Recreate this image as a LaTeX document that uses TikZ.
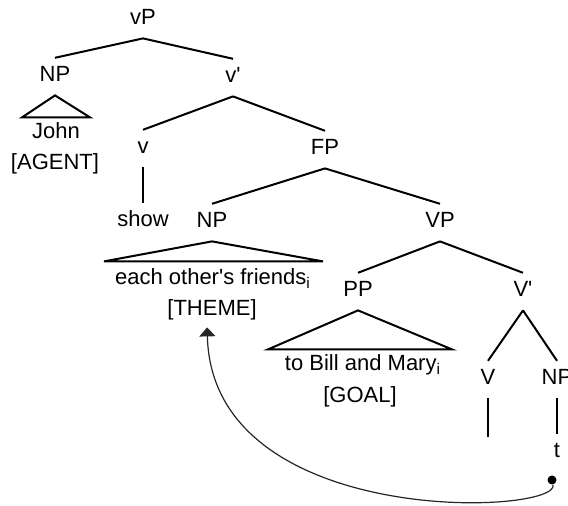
\documentclass[tikz,border=0pt]{standalone}
\usepackage{fontspec}
\setmainfont{Liberation Sans}
\usepackage{tikz}
\usetikzlibrary{arrows.meta}

\begin{document}
\begin{tikzpicture}[x=0.5pt, y=-0.5pt, >={Triangle[width=8pt,length=4.5pt]},
  font=\fontsize{11}{13}\selectfont,
  cat/.style={anchor=base, text height=7.9pt, text depth=2.5pt, inner sep=4pt},
  leaf/.style={anchor=base, inner sep=0pt, text height=8pt, text depth=2.5pt},
  branch/.style={line width=1pt},
  movement/.style={->, line width=0.6pt, black!85, shorten >=3pt}]

\useasboundingbox (0,0) rectangle (568,506);

\foreach \n/\l/\x/\y in {vP/vP/143/25, NP-1/NP/55/82, vbar/v\textquotesingle/233/83,
    v/v/143/154, FP/FP/325/155, show/show/143/227, NP-2/NP/212/228, VP/VP/440/228,
    PP/PP/358/297, Vbar/V\textquotesingle/523/297, V/V/488/385, NP-3/NP/557/385, t/t/557/458}
  \node [cat] (\n) at (\x,\y) {\l};

\node [leaf] (john) at (56,139) {John};
\node [leaf] (agent) at (55,170) {[AGENT]};
\node [leaf] (friends) at (213,285) {each other\textquotesingle s friends\textsubscript{i}};
\node [leaf] (theme) at (212,316) {[THEME]};
\node [leaf] (mary) at (363,371) {to Bill and Mary\textsubscript{i}};
\node [leaf] (goal) at (360,403) {[GOAL]};

\foreach \a/\b in {vP/NP-1, vP/vbar, vbar/v, vbar/FP, v/show, FP/NP-2, FP/VP,
    VP/PP, VP/Vbar, Vbar/V, Vbar/NP-3, NP-3/t}
  \draw [branch] (\a.south) -- (\b.north);

\coordinate (V-end) at (488,437);
\draw [branch] (V.south) -- (V-end);

% triangles
\draw [branch] (NP-1.south) -- ++(-33,22) -- ++(68,0) -- cycle;
\draw [branch] (NP-2.south) -- ++(-108,20) -- ++(219,0) -- cycle;
\draw [branch] (PP.south) -- ++(-90,39) -- ++(184,0) -- cycle;

% movement
\node [circle, fill, inner sep=0pt, minimum size=4.5pt] (trace) at (552,480) {};
\draw [movement] (trace) .. controls (560,515) and (212,530) .. ([xshift=-2.5pt]theme.south);

\end{tikzpicture}
\end{document}
